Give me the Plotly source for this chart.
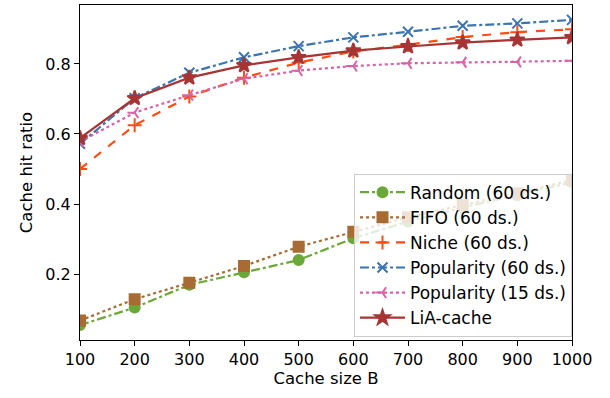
import plotly.graph_objects as go

cache_sizes = [100, 200, 300, 400, 500, 600, 700, 800, 900, 1000]

random_60 = [0.054, 0.104, 0.169, 0.205, 0.240, 0.302, 0.350, 0.390, 0.425, 0.462]
fifo_60 = [0.067, 0.128, 0.175, 0.223, 0.278, 0.321, 0.362, 0.397, 0.431, 0.468]
niche_60 = [0.500, 0.625, 0.707, 0.761, 0.804, 0.836, 0.855, 0.877, 0.891, 0.899]
popularity_60 = [0.572, 0.702, 0.775, 0.819, 0.851, 0.876, 0.892, 0.909, 0.916, 0.926]
popularity_15 = [0.578, 0.661, 0.711, 0.758, 0.781, 0.794, 0.802, 0.805, 0.806, 0.809]
lia_cache = [0.588, 0.702, 0.761, 0.796, 0.819, 0.838, 0.850, 0.861, 0.869, 0.876]

x_ticks = [100, 200, 300, 400, 500, 600, 700, 800, 900, 1000]
y_ticks = [0.2, 0.4, 0.6, 0.8]

series = [
    ("Random (60 ds.)", random_60, "#6aa837", "dashdot", "circle", 10),
    ("FIFO (60 ds.)", fifo_60, "#a86b33", "dot", "square", 10),
    ("Niche (60 ds.)", niche_60, "#ff4a12", "dash", "cross-thin-open", 10),
    ("Popularity (60 ds.)", popularity_60, "#3a74b2", "dashdot", "x-thin-open", 10),
    ("Popularity (15 ds.)", popularity_15, "#d862a8", "dot", "y-left-open", 9),
    ("LiA-cache", lia_cache, "#a83434", "solid", "star", 11),
]

fig = go.Figure()
for i, (name, vals, color, dash, sym, size) in enumerate(series):
    fig.add_trace(go.Scatter(
        x=cache_sizes, y=vals, name=name, mode="lines+markers",
        line=dict(color=color, width=2.2, dash=dash),
        marker=dict(symbol=sym, size=size, color=color,
                    line=dict(color=color, width=2)),
        legendgroup=f"g{i}",
    ))

font = "DejaVu Sans"
fig.update_layout(
    width=610, height=398,
    margin=dict(l=80, r=38, t=5, b=58),
    plot_bgcolor="white", paper_bgcolor="white",
    font=dict(family=font, size=16, color="black"),
    showlegend=True,
    legend=dict(
        x=1.0, xanchor="right", y=0.01, yanchor="bottom",
        bgcolor="rgba(255,255,255,0.8)", bordercolor="#cccccc", borderwidth=1,
        font=dict(family=font, size=17), tracegroupgap=0,
        itemwidth=45,
    ),
    xaxis=dict(
        range=[100, 1000], tickvals=x_ticks, showgrid=False, zeroline=False,
        showline=True, linecolor="black", linewidth=1.2, mirror=True,
        ticks="outside", ticklen=5, tickcolor="black",
        tickfont=dict(size=16),
        title=dict(text="Cache size B", standoff=4, font=dict(size=16.5)),
    ),
    yaxis=dict(
        range=[0.0115, 0.9685], tickvals=y_ticks, ticktext=["0.2", "0.4", "0.6", "0.8"],
        showgrid=False, zeroline=False,
        showline=True, linecolor="black", linewidth=1.2, mirror=True,
        ticks="outside", ticklen=5, tickcolor="black",
        tickfont=dict(size=16),
        title=dict(text="Cache hit ratio", standoff=8, font=dict(size=16.5)),
    ),
)

fig.write_html("out.html")
